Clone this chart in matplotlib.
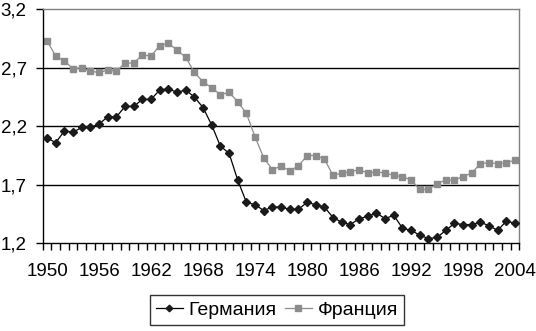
import matplotlib
matplotlib.use("Agg")
import matplotlib.pyplot as plt
from matplotlib.ticker import FixedLocator, FuncFormatter

years = list(range(1950, 2005))
germany = [2.10, 2.06, 2.16, 2.15, 2.19, 2.19, 2.22, 2.28, 2.28, 2.37,
           2.37, 2.43, 2.43, 2.51, 2.52, 2.49, 2.51, 2.45, 2.36, 2.21,
           2.03, 1.97, 1.74, 1.55, 1.53, 1.48, 1.51, 1.51, 1.49, 1.49,
           1.55, 1.53, 1.51, 1.42, 1.38, 1.36, 1.41, 1.43, 1.46, 1.41,
           1.44, 1.33, 1.31, 1.27, 1.24, 1.25, 1.31, 1.37, 1.36, 1.36,
           1.38, 1.35, 1.31, 1.39, 1.37]
france = [2.93, 2.80, 2.76, 2.69, 2.70, 2.67, 2.66, 2.68, 2.67, 2.74,
          2.74, 2.81, 2.80, 2.89, 2.91, 2.85, 2.79, 2.66, 2.58, 2.53,
          2.47, 2.49, 2.41, 2.31, 2.11, 1.93, 1.83, 1.86, 1.82, 1.86,
          1.95, 1.95, 1.92, 1.78, 1.80, 1.81, 1.83, 1.80, 1.81, 1.80,
          1.78, 1.77, 1.74, 1.66, 1.66, 1.71, 1.74, 1.74, 1.77, 1.80,
          1.88, 1.89, 1.88, 1.89, 1.91]
x_label_years = [1950, 1956, 1962, 1968, 1974, 1980, 1986, 1992, 1998, 2004]
y_ticks = [1.2, 1.7, 2.2, 2.7, 3.2]

plt.rcParams['font.family'] = ['Liberation Sans', 'DejaVu Sans']

fig = plt.figure(figsize=(5.36, 3.31), dpi=100)
ax = fig.add_axes([0.0797, 0.265, 0.969 - 0.0797, 0.972 - 0.265])

for yv in y_ticks[1:-1]:
    ax.axhline(yv, color='black', lw=1.0, zorder=1)

ax.plot(years, germany, color='black', lw=0.9, marker='D', markersize=4.2,
        markerfacecolor='#1a1a1a', markeredgecolor='#1a1a1a', label='Германия', zorder=3)
ax.plot(years, france, color='#8c8c8c', lw=0.9, marker='s', markersize=4.6,
        markerfacecolor='#8c8c8c', markeredgecolor='#8c8c8c', label='Франция', zorder=2)

ax.set_yticks(y_ticks)
ax.yaxis.set_major_formatter(FuncFormatter(lambda v, p: f"{v:.1f}".replace('.', ',')))
ax.tick_params(axis='y', length=5, width=1, pad=6.5, labelsize=13.5, direction='out')

# category boundaries as minor ticks
ax.xaxis.set_minor_locator(FixedLocator([y - 0.5 for y in years] + [years[-1] + 0.5]))
ax.set_xticks(x_label_years)
ax.set_xticklabels([str(y) for y in x_label_years])
ax.tick_params(axis='x', which='major', length=0, pad=14, labelsize=13.5)
ax.tick_params(axis='x', which='minor', length=5, width=1, direction='out')

ax.set_xlim(years[0] - 0.5, years[-1] + 0.5)
ax.set_ylim(y_ticks[0], y_ticks[-1])

for s in ['top', 'right']:
    ax.spines[s].set_color('#808080')
    ax.spines[s].set_linewidth(1.0)
for s in ['left', 'bottom']:
    ax.spines[s].set_color('black')
    ax.spines[s].set_linewidth(1.0)

leg = fig.legend(loc='center', bbox_to_anchor=(277 / 536, 1 - 310 / 331), ncol=2,
                 frameon=True, fancybox=False, edgecolor='black', fontsize=14,
                 handlelength=1.4, handletextpad=0.3, columnspacing=0.4,
                 borderpad=0.3, markerscale=0.8)
leg.get_frame().set_linewidth(1.0)

fig.savefig('out.png', dpi=100)
